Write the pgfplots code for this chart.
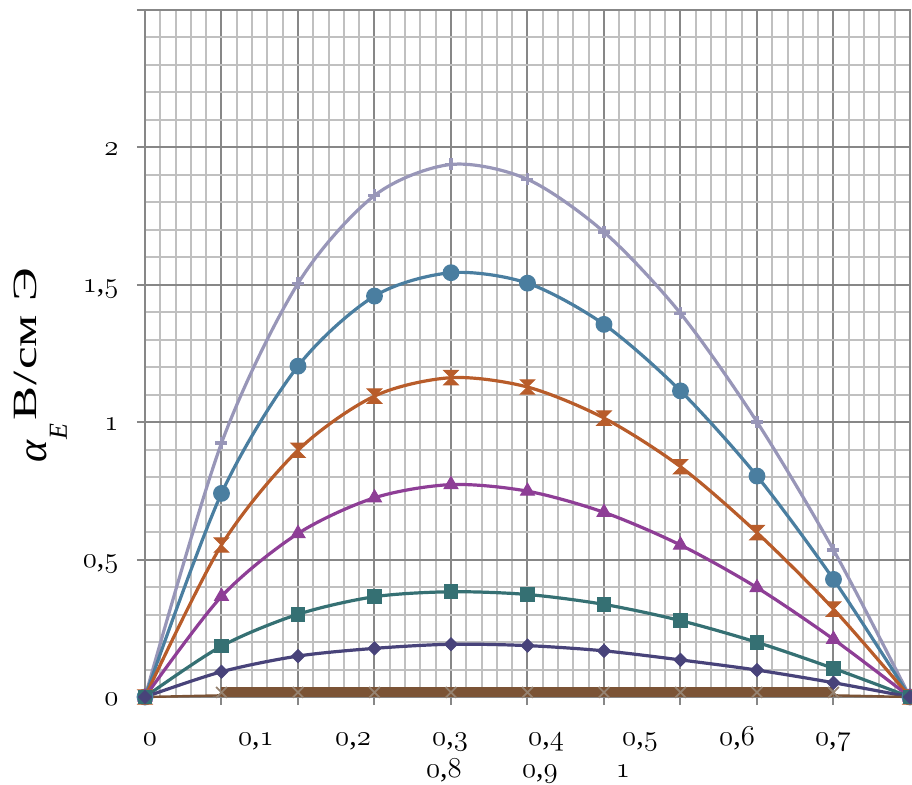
\documentclass[border=0pt]{standalone}
\usepackage{fontspec}
\setmainfont{Liberation Serif}
\usepackage{graphicx}
\usepackage{pgfplots}
\pgfplotsset{compat=1.18}
\definecolor{lav}{RGB}{152,150,184}
\definecolor{cblue}{RGB}{74,126,160}
\definecolor{corange}{RGB}{184,92,42}
\definecolor{cpurple}{RGB}{142,62,150}
\definecolor{cteal}{RGB}{53,112,115}
\definecolor{cnavy}{RGB}{72,67,122}
\definecolor{cbrown}{RGB}{123,83,53}
\definecolor{cxmark}{RGB}{150,130,112}
\definecolor{gmaj}{RGB}{135,135,135}
\definecolor{gmin}{RGB}{192,192,192}
\newcommand\od[1]{{\fontencoding{OML}\fontfamily{cmm}\fontseries{m}\fontshape{it}\selectfont #1}}
\newcommand\dc[2]{\od{#1},\od{#2}}
\pgfdeclareplotmark{hourglass}{%
  \pgfpathmoveto{\pgfpoint{-\pgfplotmarksize}{\pgfplotmarksize}}%
  \pgfpathlineto{\pgfpoint{\pgfplotmarksize}{\pgfplotmarksize}}%
  \pgfpathlineto{\pgfpoint{-\pgfplotmarksize}{-\pgfplotmarksize}}%
  \pgfpathlineto{\pgfpoint{\pgfplotmarksize}{-\pgfplotmarksize}}%
  \pgfpathclose
  \pgfusepathqfillstroke}
\begin{document}
\begin{tikzpicture}
\useasboundingbox (-72.5pt,-43.5pt) rectangle (383.5pt,348.5pt);
\begin{axis}[
  at={(0,0)}, anchor=south west,
  scale only axis, width=382.5pt, height=343.5pt,
  xmin=0, xmax=1, ymin=0, ymax=2.5,
  clip=false,
  xtick={0,0.1,0.2,0.3,0.4,0.5,0.6,0.7,0.8,0.9,1},
  xticklabels={},
  ytick={0,0.5,1,1.5,2,2.5},
  yticklabels={\od{0},\dc{0}{5},\od{1},\dc{1}{5},\od{2},{}},
  minor x tick num=4, minor y tick num=4,
  grid=both,
  major grid style={draw=gmaj, line width=1pt},
  minor grid style={draw=gmin, line width=1pt},
  axis line style={draw=gmaj, line width=1pt},
  tick style={draw=gmaj, line width=1pt},
  tick align=outside, tick pos=left,
  major tick length=4pt, minor tick length=0pt,
  tick label style={font=\fontsize{15}{17}\selectfont},
  yticklabel style={anchor=base east, inner sep=0pt, xshift=-9pt, yshift=-4pt},
]
\addplot[lav, line width=1.6pt, smooth, mark=+, mark size=3pt] coordinates {(0,0)(0.1,0.924)(0.2,1.505)(0.3,1.825)(0.4,1.938)(0.5,1.884)(0.6,1.692)(0.7,1.396)(0.8,1.001)(0.9,0.535)(1,0)};
\addplot[cblue, line width=1.6pt, smooth, mark=*, mark size=3.4pt] coordinates {(0,0)(0.1,0.741)(0.2,1.204)(0.3,1.459)(0.4,1.544)(0.5,1.506)(0.6,1.356)(0.7,1.114)(0.8,0.804)(0.9,0.428)(1,0)};
\addplot[corange, line width=1.6pt, smooth, mark=hourglass, mark size=3.6pt, mark options={line width=0.5pt}] coordinates {(0,0)(0.1,0.553)(0.2,0.898)(0.3,1.095)(0.4,1.162)(0.5,1.128)(0.6,1.015)(0.7,0.838)(0.8,0.598)(0.9,0.32)(1,0)};
\addplot[cpurple, line width=1.6pt, smooth, mark=triangle*, mark size=4pt, mark options={line width=0.5pt}] coordinates {(0,0)(0.1,0.366)(0.2,0.595)(0.3,0.725)(0.4,0.773)(0.5,0.749)(0.6,0.672)(0.7,0.553)(0.8,0.398)(0.9,0.210)(1,0)};
\addplot[cteal, line width=1.6pt, smooth, mark=square*, mark size=3.4pt, mark options={line width=0.5pt}] coordinates {(0,0)(0.1,0.185)(0.2,0.301)(0.3,0.365)(0.4,0.383)(0.5,0.373)(0.6,0.337)(0.7,0.278)(0.8,0.199)(0.9,0.104)(1,0)};
\addplot[cnavy, line width=1.6pt, smooth, mark=square*, mark size=2.3pt, mark options={rotate=45, line width=0.5pt}] coordinates {(0,0)(0.1,0.092)(0.2,0.149)(0.3,0.177)(0.4,0.192)(0.5,0.187)(0.6,0.168)(0.7,0.135)(0.8,0.098)(0.9,0.052)(1,0)};
\addplot[cbrown, line width=1.2pt] coordinates {(0,0)(0.1,0.006)};
\addplot[cbrown, line width=1.2pt] coordinates {(0.9,0.006)(1,0)};
\addplot[cbrown, line width=5pt, mark=x, mark size=3.8pt, mark options={draw=cxmark, line width=0.9pt}] coordinates {(0.1,0.017)(0.2,0.017)(0.3,0.017)(0.4,0.017)(0.5,0.017)(0.6,0.017)(0.7,0.017)(0.8,0.017)(0.9,0.017)};
\begin{scope}[every node/.style={anchor=base, inner sep=0pt, font=\fontsize{15}{17}\selectfont}]
\node at ([yshift=-24pt]axis cs:0.0065,0) {\od{0}};
\node at ([yshift=-24pt]axis cs:0.1451,0) {\dc{0}{1}};
\node at ([yshift=-24pt]axis cs:0.2719,0) {\dc{0}{2}};
\node at ([yshift=-24pt]axis cs:0.3987,0) {\dc{0}{3}};
\node at ([yshift=-24pt]axis cs:0.5242,0) {\dc{0}{4}};
\node at ([yshift=-24pt]axis cs:0.6471,0) {\dc{0}{5}};
\node at ([yshift=-24pt]axis cs:0.7739,0) {\dc{0}{6}};
\node at ([yshift=-24pt]axis cs:0.8993,0) {\dc{0}{7}};
\node at ([yshift=-40pt]axis cs:0.3908,0) {\dc{0}{8}};
\node at ([yshift=-40pt]axis cs:0.5163,0) {\dc{0}{9}};
\node at ([yshift=-40pt]axis cs:0.6248,0) {\od{1}};
\end{scope}
\node[rotate=90, anchor=base west, inner sep=0pt] at ([xshift=-54pt]axis cs:0,0.851) {\raisebox{-5pt}{\fontsize{21}{21}\selectfont\itshape α}\kern0.5pt\raisebox{-15pt}{\fontsize{13}{13}\selectfont\itshape E}\kern1.5pt\scalebox{1.5}[1]{\fontsize{17}{20}\selectfont В\kern0.5pt/\kern0.5pt см\ Э}};
\end{axis}
\end{tikzpicture}
\end{document}
